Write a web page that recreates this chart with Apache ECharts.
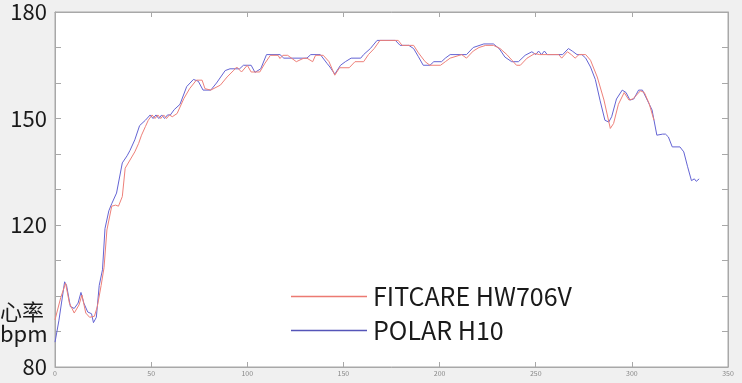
<!DOCTYPE html>
<html>
<head>
<meta charset="utf-8">
<script src="https://cdn.jsdelivr.net/npm/echarts@6/dist/echarts.min.js"></script>
<style>
html,body{margin:0;padding:0;background:#f0f0f0;}
#chart{width:742px;height:383px;}
</style>
</head>
<body>
<div id="chart"></div>
<script>
// ---- data ----
const seriesNames = ['FITCARE HW706V', 'POLAR H10'];
const yTickLabels = {180: '180', 150: '150', 120: '120', 80: '80'};
const yAxisName = '心率\nbpm';

const fitcareX = [0,3,5.5,7.5,10,12.5,14,16,18,20.5,22,24,25.5,27,29.5,31.5,33,35,36.5,39,41.5,43.5,45,47,48.5,50.5,52,53.5,55,56.5,58,59.5,61,63.5,67,70,73.5,76.5,78,81,86,89.5,93,94.5,97,100,102,106.5,109,112,116,117,118.5,121,125.5,129,131,134,135.5,139.5,142.5,145.5,148,153,156,160.5,163,166,169,178.5,180.5,186.5,189,192.5,195,200.5,203,205.5,211.5,214,217.5,220.5,224,228,231.5,235,240,242,245.5,249.5,252,262,263.5,266.5,268.5,270.5,272.5,276,278.5,282,285.5,288.8,290.5,293,296,298.5,300.5,304.5,306.5,309,311.5];
const fitcareY = [93.3,99.6,103.6,98,95.2,97.5,100.3,95.2,94,94.3,97,103,108,118.6,125.3,125.6,125.3,128,136,138.3,140.6,143,145.3,147.7,149.5,151,150,151,150,151,150,151,150.5,151.4,155.6,158.4,160.8,160.8,158.4,158,159.4,161.7,163.6,164.5,163.1,165,163.1,163.1,165.4,167.8,167.8,166.9,167.8,167.8,166,166.9,167,166,167.8,167.8,166,162.2,164.3,164.3,166,166,168,169.7,172,172,170.6,170.6,168.5,166,165,165,166,167,168,167,169,170,170.6,170.6,169.7,168,165,165,167,168.3,168,168,167,168.8,168,167,168,168,166.4,161.7,155.2,147.2,148.6,154,157.3,155.2,155.5,157.8,157.3,154.2,149.5];

const polarX = [0,2,5,6,8,10,12,13.5,15,17,19,20,21.5,23,24.7,26,28,29.5,32,35,37.5,39,41.5,44,47,49.5,51,52.5,54,55.5,57,58.5,60,62,65,68.5,72,74.5,77,81,84,88.5,91,96,98,102,104,107,110,117,119,131,133,138,141.5,143,145.5,148.5,151,154,159,160.5,164,167.5,177,179.5,184,186.5,189,191.5,195,197,201,203,205.5,214,217.5,223,228,231,234,237.5,241,244.5,248,250,251.5,253,254.5,256,264,267,269,271.5,274,276,278.5,281,283.5,286,288,289.5,292,295,297,299,301,303.5,305.5,308,310.5,313,316,317.5,319,321,325,327,329,331,332.5,333.5,335];
const polarY = [87,93,104,103,97,96.5,98,101,98,95.5,95,92.5,94,103,107.4,119,124,126,129,137.5,139.5,141,144,148,149.5,151,150,151,150,151,150,151,151,152.5,154,159,161,160.5,158,158,160,163.5,164,164,165,165,163,164,168,168,167,167,168,168,165.5,164.5,162.5,165,166,167,167,168,169.7,172,172,170.6,170.6,169.7,167.4,165,165,166,166,167,168,168,170,171,171,169.7,167.3,166,166,167.8,168.8,168,169,168,169,168,168,169.7,169,168,168,167,164.5,161,155,149.5,149,150.5,155.5,158,157.3,155.2,155.5,158,158,155.2,152.4,145.3,145.6,145.6,144.8,142,142,140.6,136.4,132.5,133,132.3,133];

function zip(xs, ys) { return xs.map((x, i) => [x, ys[i]]); }

const chart = echarts.init(document.getElementById('chart'));
const axisColor = '#a8a8a8';
const font = "'Noto Sans CJK SC', 'Noto Sans', sans-serif";

chart.setOption({
  animation: false,
  backgroundColor: '#f0f0f0',
  grid: {
    left: 55, right: 14, top: 12, bottom: 16,
    show: true, backgroundColor: '#ffffff', borderColor: axisColor, borderWidth: 1
  },
  legend: {
    show: true,
    orient: 'vertical',
    left: 286, top: 279,
    icon: 'rect',
    itemWidth: 76, itemHeight: 1.5, itemGap: 9,
    data: seriesNames,
    textStyle: {fontFamily: font, fontSize: 25, color: '#1a1a1a', padding: [0, 0, 0, 1]}
  },
  xAxis: [{
    type: 'value', min: 0, max: 350, interval: 50, position: 'bottom',
    axisLine: {show: true, onZero: false, lineStyle: {color: axisColor}},
    axisTick: {show: true, inside: true, length: 5, lineStyle: {color: axisColor}},
    axisLabel: {fontSize: 7, color: '#888', margin: 3, fontFamily: font},
    splitLine: {show: false}
  }, {
    type: 'value', min: 0, max: 350, interval: 50, position: 'top',
    axisLine: {show: true, onZero: false, lineStyle: {color: axisColor}},
    axisTick: {show: true, inside: true, length: 5, lineStyle: {color: axisColor}},
    axisLabel: {show: false},
    splitLine: {show: false}
  }],
  yAxis: [{
    type: 'value', min: 80, max: 180, interval: 10, position: 'left',
    axisLine: {show: true, onZero: false, lineStyle: {color: axisColor}},
    axisTick: {show: true, inside: true, length: 6, lineStyle: {color: axisColor}},
    axisLabel: {
      fontSize: 22, color: '#1a1a1a', margin: 8, fontFamily: font,
      formatter: v => yTickLabels[v] || ''
    },
    splitLine: {show: false}
  }, {
    type: 'value', min: 80, max: 180, interval: 10, position: 'right',
    axisLine: {show: true, onZero: false, lineStyle: {color: axisColor}},
    axisTick: {show: true, inside: true, length: 6, lineStyle: {color: axisColor}},
    axisLabel: {show: false},
    splitLine: {show: false}
  }],
  graphic: [{
    type: 'text', left: 0, top: 301, z: 10,
    style: {text: yAxisName, font: "22px 'Noto Sans CJK SC'", fill: '#1a1a1a', lineHeight: 22, align: 'right', width: 50}
  }],
  series: [{
    name: seriesNames[1], type: 'line', symbol: 'none', smooth: false,
    data: zip(polarX, polarY),
    lineStyle: {color: '#6464d4', width: 1},
    itemStyle: {color: '#5555b8'}
  }, {
    name: seriesNames[0], type: 'line', symbol: 'none', smooth: false,
    data: zip(fitcareX, fitcareY),
    lineStyle: {color: '#ee8079', width: 1},
    itemStyle: {color: '#ec7a72'}
  }]
});
</script>
</body>
</html>
